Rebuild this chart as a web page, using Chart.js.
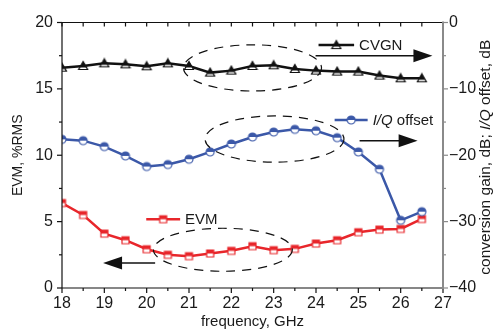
<!DOCTYPE html>
<html>
<head>
<meta charset="utf-8">
<script src="https://cdn.jsdelivr.net/npm/chart.js@4.4.1/dist/chart.umd.min.js"></script>
<style>
  html, body { margin: 0; padding: 0; background: #fff; }
</style>
</head>
<body>
<canvas id="myChart" width="497" height="329"></canvas>
<script>
  // frequency, GHz
  const freq = [18, 18.5, 19, 19.5, 20, 20.5, 21, 21.5, 22, 22.5, 23, 23.5, 24, 24.5, 25, 25.5, 26, 26.5];
  // EVM, %RMS (left axis)
  const evm = [6.4, 5.5, 4.1, 3.6, 2.92, 2.5, 2.4, 2.6, 2.8, 3.15, 2.85, 2.95, 3.35, 3.6, 4.2, 4.4, 4.45, 5.2];
  // I/Q offset, dB (right axis)
  const iqOffset = [-17.6, -17.8, -18.7, -20.1, -21.7, -21.4, -20.6, -19.5, -18.3, -17.25, -16.5, -16.1, -16.3, -17.35, -19.5, -22.1, -29.8, -28.5];
  // conversion gain, dB (right axis)
  const cvgn = [-6.8, -6.55, -6.15, -6.3, -6.6, -6.15, -6.55, -7.55, -7.25, -6.55, -6.45, -7.0, -7.25, -7.4, -7.4, -8.0, -8.4, -8.4];

  const xTicks = [18, 19, 20, 21, 22, 23, 24, 25, 26, 27];
  const leftTicks = [0, 5, 10, 15, 20];
  const rightTicks = [0, -10, -20, -30, -40];

  const FONT = "'Liberation Sans', Arial, Helvetica, sans-serif";
  const RED = '#e8262b';
  const BLUE = '#3b58a8';
  const BLACK = '#111';

  // half-filled marker images
  function marker(shape, color, size) {
    const c = document.createElement('canvas');
    const s = size + 4;
    c.width = s; c.height = s;
    const g = c.getContext('2d');
    const m = s / 2, r = size / 2;
    function path() {
      g.beginPath();
      if (shape === 'square') {
        g.rect(m - r, m - r, size, size);
      } else if (shape === 'circle') {
        g.arc(m, m, r, 0, Math.PI * 2);
      } else {
        g.moveTo(m, m - r - 0.5);
        g.lineTo(m + r + 0.5, m + r - 0.5);
        g.lineTo(m - r - 0.5, m + r - 0.5);
        g.closePath();
      }
    }
    path();
    g.fillStyle = '#fff';
    g.fill();
    g.save();
    g.beginPath();
    g.rect(0, 0, s, shape === 'triangle' ? m + 1.5 : m);
    g.clip();
    path();
    g.fillStyle = color;
    g.fill();
    g.restore();
    path();
    g.lineWidth = 1.2;
    g.strokeStyle = color;
    g.stroke();
    return c;
  }

  const sqMark = marker('square', RED, 7);
  const ciMark = marker('circle', BLUE, 8);
  const trMark = marker('triangle', BLACK, 8);

  // annotations (in x / left-axis units)
  const ellipses = [
    { x: 22.5, y: 16.58, rx: 1.63, ry: 1.74 },
    { x: 23.02, y: 11.22, rx: 1.64, ry: 1.74 },
    { x: 21.8, y: 2.88, rx: 1.64, ry: 1.62 }
  ];
  const arrows = [
    { from: 23.99, to: 26.75, y: 17.49 },
    { from: 25.03, to: 26.4, y: 11.09 },
    { from: 20.2, to: 18.97, y: 1.89 }
  ];
  const keys = [
    { x1: 24.06, x2: 24.9, y: 18.3, img: trMark, color: BLACK, text: [['CVGN', false]] },
    { x1: 24.44, x2: 25.22, y: 12.66, img: ciMark, color: BLUE, text: [['I/Q', true], [' offset', false]] },
    { x1: 19.99, x2: 20.79, y: 5.18, img: sqMark, color: RED, text: [['EVM', false]] }
  ];

  function pts(ys) {
    return freq.map((f, i) => ({ x: f, y: ys[i] }));
  }

  function drawParts(ctx, parts, x, y, size) {
    let cx = x;
    parts.forEach(([t, it]) => {
      ctx.font = (it ? 'italic ' : '') + size + 'px ' + FONT;
      ctx.fillText(t, cx, y);
      cx += ctx.measureText(t).width;
    });
  }
  function partsWidth(ctx, parts, size) {
    let w = 0;
    parts.forEach(([t, it]) => {
      ctx.font = (it ? 'italic ' : '') + size + 'px ' + FONT;
      w += ctx.measureText(t).width;
    });
    return w;
  }

  const extras = {
    id: 'extras',
    afterDraw(chart) {
      const { ctx, chartArea: a, scales } = chart;
      const sx = scales.x, sy = scales.y, sr = scales.y2;
      const ln = (x1, y1, x2, y2) => { ctx.beginPath(); ctx.moveTo(x1, y1); ctx.lineTo(x2, y2); ctx.stroke(); };
      ctx.save();

      // frame + ticks
      ctx.strokeStyle = BLACK;
      ctx.lineWidth = 1.2;
      ln(a.left, a.bottom, a.right, a.bottom);
      ln(a.left, a.top, a.right, a.top);
      ln(a.left, a.top, a.left, a.bottom);
      for (let v = 18; v <= 27.001; v += 0.5) {
        const px = sx.getPixelForValue(v);
        const major = Math.abs(v - Math.round(v)) < 0.01;
        ln(px, a.bottom, px, a.bottom + (major ? 5 : 3));
        ln(px, a.top, px, a.top + 4);
      }
      for (let v = 0; v <= 20.001; v += 2.5) {
        const py = sy.getPixelForValue(v);
        ln(a.left, py, a.left - (v % 5 === 0 ? 5 : 3), py);
      }
      ctx.strokeStyle = '#8a8a8a';
      ctx.lineWidth = 2;
      ln(a.right, a.top - 1, a.right, a.bottom + 1);
      ctx.lineWidth = 1.2;
      for (let v = -40; v <= 0.001; v += 5) {
        const py = sr.getPixelForValue(v);
        ln(a.right, py, a.right + (v % 10 === 0 ? 5 : 3), py);
      }

      // dashed ellipses
      ctx.strokeStyle = BLACK;
      ctx.lineWidth = 1.2;
      ctx.setLineDash([9, 7]);
      ellipses.forEach(e => {
        const cx = sx.getPixelForValue(e.x), cy = sy.getPixelForValue(e.y);
        const rx = sx.getPixelForValue(e.x + e.rx) - cx;
        const ry = cy - sy.getPixelForValue(e.y + e.ry);
        ctx.beginPath();
        ctx.ellipse(cx, cy, rx, ry, 0, 0, Math.PI * 2);
        ctx.stroke();
      });
      ctx.setLineDash([]);

      // arrows
      ctx.fillStyle = BLACK;
      ctx.lineWidth = 1.5;
      arrows.forEach(ar => {
        const x1 = sx.getPixelForValue(ar.from), x2 = sx.getPixelForValue(ar.to);
        const y = sy.getPixelForValue(ar.y);
        const d = x2 > x1 ? 1 : -1;
        ln(x1, y, x2 - d * 16, y);
        ctx.beginPath();
        ctx.moveTo(x2, y);
        ctx.lineTo(x2 - d * 19, y - 6.5);
        ctx.lineTo(x2 - d * 19, y + 6.5);
        ctx.closePath();
        ctx.fill();
      });

      // inline keys
      ctx.textBaseline = 'middle';
      ctx.textAlign = 'left';
      keys.forEach(k => {
        const x1 = sx.getPixelForValue(k.x1), x2 = sx.getPixelForValue(k.x2);
        const y = sy.getPixelForValue(k.y);
        ctx.strokeStyle = k.color;
        ctx.lineWidth = 2.5;
        ln(x1, y, x2, y);
        ctx.drawImage(k.img, (x1 + x2) / 2 - k.img.width / 2, y - k.img.height / 2);
        ctx.fillStyle = '#1a1a1a';
        drawParts(ctx, k.text, x2 + 5, y + 1, 15);
      });

      // right axis title, reading upward
      const title = [['conversion gain, dB; ', false], ['I/Q', true], [' offset, dB', false]];
      ctx.save();
      ctx.translate(486, (a.top + a.bottom) / 2 + 2);
      ctx.rotate(-Math.PI / 2);
      ctx.fillStyle = '#1a1a1a';
      const w = partsWidth(ctx, title, 15.5);
      drawParts(ctx, title, -w / 2, 0, 15.5);
      ctx.restore();

      ctx.restore();
    }
  };

  const minus = v => String(v).replace('-', '\u2212');

  const config = {
    type: 'line',
    data: {
      datasets: [
        {
          label: 'CVGN',
          data: pts(cvgn),
          yAxisID: 'y2',
          borderColor: BLACK,
          borderWidth: 2.5,
          pointStyle: trMark,
          tension: 0
        },
        {
          label: 'I/Q offset',
          data: pts(iqOffset),
          yAxisID: 'y2',
          borderColor: BLUE,
          borderWidth: 2.5,
          pointStyle: ciMark,
          tension: 0
        },
        {
          label: 'EVM',
          data: pts(evm),
          yAxisID: 'y',
          borderColor: RED,
          borderWidth: 2.5,
          pointStyle: sqMark,
          tension: 0
        }
      ]
    },
    options: {
      responsive: false,
      animation: false,
      layout: { padding: { top: 22.5, left: 0, right: 0, bottom: 0 } },
      plugins: { legend: { display: false }, tooltip: { enabled: false } },
      scales: {
        x: {
          type: 'linear',
          min: 18,
          max: 27,
          afterBuildTicks: s => { s.ticks = xTicks.map(v => ({ value: v })); },
          afterFit: s => { s.height = 41; },
          grid: { display: false, drawTicks: false },
          border: { display: false },
          ticks: { color: '#1a1a1a', padding: 6, maxRotation: 0, font: { family: FONT, size: 16 } },
          title: { display: true, text: 'frequency, GHz', color: '#1a1a1a', padding: { top: 0, bottom: 0 }, font: { family: FONT, size: 15, lineHeight: 1 } }
        },
        y: {
          position: 'left',
          min: 0,
          max: 20,
          afterBuildTicks: s => { s.ticks = leftTicks.map(v => ({ value: v })); },
          afterFit: s => { s.width = 62; },
          grid: { display: false, drawTicks: false },
          border: { display: false },
          ticks: { color: '#1a1a1a', padding: 9, font: { family: FONT, size: 16 } },
          title: { display: true, text: 'EVM, %RMS', color: '#1a1a1a', padding: { top: 10, bottom: 0 }, font: { family: FONT, size: 14 } }
        },
        y2: {
          position: 'right',
          min: -40,
          max: 0,
          afterBuildTicks: s => { s.ticks = rightTicks.map(v => ({ value: v })); },
          afterFit: s => { s.width = 54; },
          grid: { display: false, drawTicks: false },
          border: { display: false },
          ticks: { color: '#1a1a1a', padding: 6, font: { family: FONT, size: 16 }, callback: v => minus(v) }
        }
      }
    },
    plugins: [extras]
  };

  var myChart = new Chart(document.getElementById('myChart'), config);
</script>
</body>
</html>
